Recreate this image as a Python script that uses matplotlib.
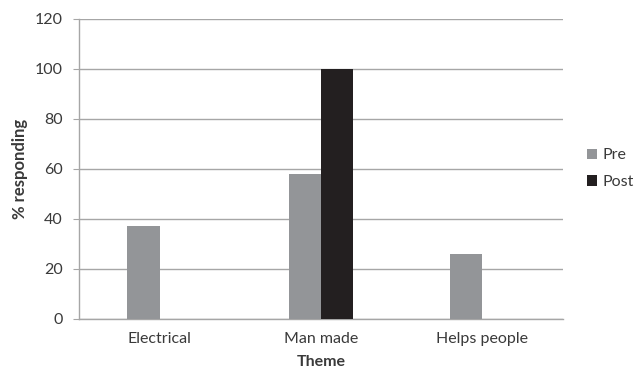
import matplotlib
matplotlib.use("Agg")
import matplotlib.pyplot as plt
import numpy as np

categories = ["Electrical", "Man made", "Helps people"]
pre_values = [37, 58, 26]
post_values = [0, 100, 0]
series_names = ["Pre", "Post"]
y_ticks = [0, 20, 40, 60, 80, 100, 120]

plt.rcParams['font.family'] = ['Lato', 'DejaVu Sans']
text_color = "#3a3a3a"
grid_color = "#a6a6a6"

fig = plt.figure(figsize=(6.34, 3.71), dpi=100)
ax = fig.add_axes([0.1246, 0.1415, 0.7634, 0.8073])

x = np.arange(len(categories))
w = 0.2
ax.bar(x - w / 2, pre_values, width=w, color="#939598", label=series_names[0], zorder=3)
ax.bar(x + w / 2, post_values, width=w, color="#231f20", label=series_names[1], zorder=3)

ax.set_xlim(-0.5, len(categories) - 0.5)
ax.set_ylim(0, 120)
ax.set_yticks(y_ticks)
ax.set_xticks(x)
ax.set_xticklabels(categories)

ax.yaxis.grid(True, color=grid_color, linewidth=1.0, zorder=0)
for s in ["top", "right"]:
    ax.spines[s].set_visible(False)
for s in ["left", "bottom"]:
    ax.spines[s].set_color(grid_color)
    ax.spines[s].set_linewidth(1.0)

ax.tick_params(axis="y", length=4.5, color=grid_color, pad=7, labelsize=11.5, labelcolor=text_color)
ax.tick_params(axis="x", length=0, pad=10, labelsize=11.5, labelcolor=text_color)

ax.set_ylabel("% responding", fontsize=12, fontweight="bold", color=text_color, labelpad=5)
ax.set_xlabel("Theme", fontsize=11.5, fontweight="bold", color=text_color, labelpad=6)

ax.legend(loc="center left", bbox_to_anchor=(1.02, 0.50), frameon=False,
          fontsize=11.5, handlelength=0.6, handleheight=0.6, labelspacing=0.8,
          handletextpad=0.35, labelcolor=text_color)

fig.savefig("out.png", dpi=100)
